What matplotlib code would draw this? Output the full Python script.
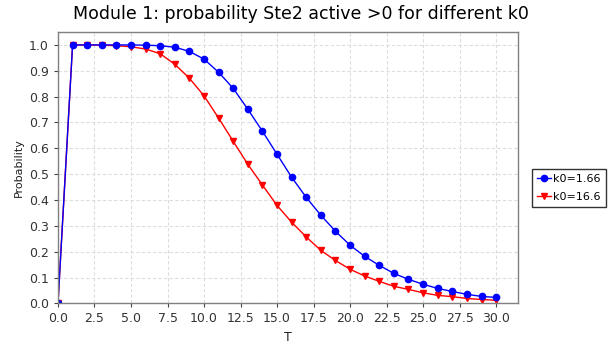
import matplotlib
matplotlib.use("Agg")
import matplotlib.pyplot as plt

T = list(range(31))

# k0=1.66 (blue circles)
p_k1 = [0.0, 1.0, 1.0, 1.0, 1.0, 1.0, 0.999, 0.997, 0.991, 0.975, 0.945,
        0.894, 0.832, 0.751, 0.666, 0.577, 0.488, 0.410, 0.341, 0.279, 0.225,
        0.182, 0.147, 0.116, 0.093, 0.074, 0.058, 0.046, 0.035, 0.027, 0.023]

# k0=16.6 (red triangles)
p_k2 = [0.0, 1.0, 1.0, 0.999, 0.997, 0.993, 0.984, 0.966, 0.925, 0.871, 0.803,
        0.717, 0.627, 0.538, 0.458, 0.379, 0.314, 0.257, 0.205, 0.166, 0.132,
        0.106, 0.085, 0.066, 0.054, 0.041, 0.031, 0.026, 0.019, 0.015, 0.012]

xticks = [0.0, 2.5, 5.0, 7.5, 10.0, 12.5, 15.0, 17.5, 20.0, 22.5, 25.0, 27.5, 30.0]
yticks = [0.0, 0.1, 0.2, 0.3, 0.4, 0.5, 0.6, 0.7, 0.8, 0.9, 1.0]

fig = plt.figure(figsize=(6.09, 3.54), dpi=100)
ax = fig.add_axes([0.0952, 0.143, 0.7554, 0.7666])

ax.plot(T, p_k2, '-', color='#ff0000', marker='v', markersize=5, linewidth=1,
        label='k0=16.6')
ax.plot(T, p_k1, '-', color='#0000ff', marker='o', markersize=4.5, linewidth=1,
        label='k0=1.66')

ax.set_xlim(0, 31.5)
ax.set_ylim(0, 1.05)
ax.set_xticks(xticks)
ax.set_xticklabels([f"{v:.1f}" for v in xticks])
ax.set_yticks(yticks)
ax.set_yticklabels([f"{v:.1f}" for v in yticks])
ax.tick_params(labelsize=9, colors='#444444', length=3, width=0.8,
               labelcolor='#333333')
for s in ax.spines.values():
    s.set_color('#808080')
    s.set_linewidth(1)
ax.grid(True, color='#dddddd', linestyle=(0, (3, 2)), linewidth=0.8)
ax.set_axisbelow(True)

ax.set_xlabel("T", fontsize=9, color='#222222')
ax.set_ylabel("Probability", fontsize=8, color='#222222')
fig.suptitle("Module 1: probability Ste2 active >0 for different k0",
             fontsize=12.5, x=0.494, y=0.985)

h, l = ax.get_legend_handles_labels()
leg = fig.legend(h[::-1], l[::-1], loc='center left',
                 bbox_to_anchor=(0.873, 0.469), fontsize=8,
                 frameon=True, fancybox=False, handlelength=1.3,
                 handletextpad=0.2, borderpad=0.45, labelspacing=0.7,
                 borderaxespad=0)
leg.get_frame().set_edgecolor('black')
leg.get_frame().set_linewidth(1)

fig.savefig("out.png", dpi=100)
